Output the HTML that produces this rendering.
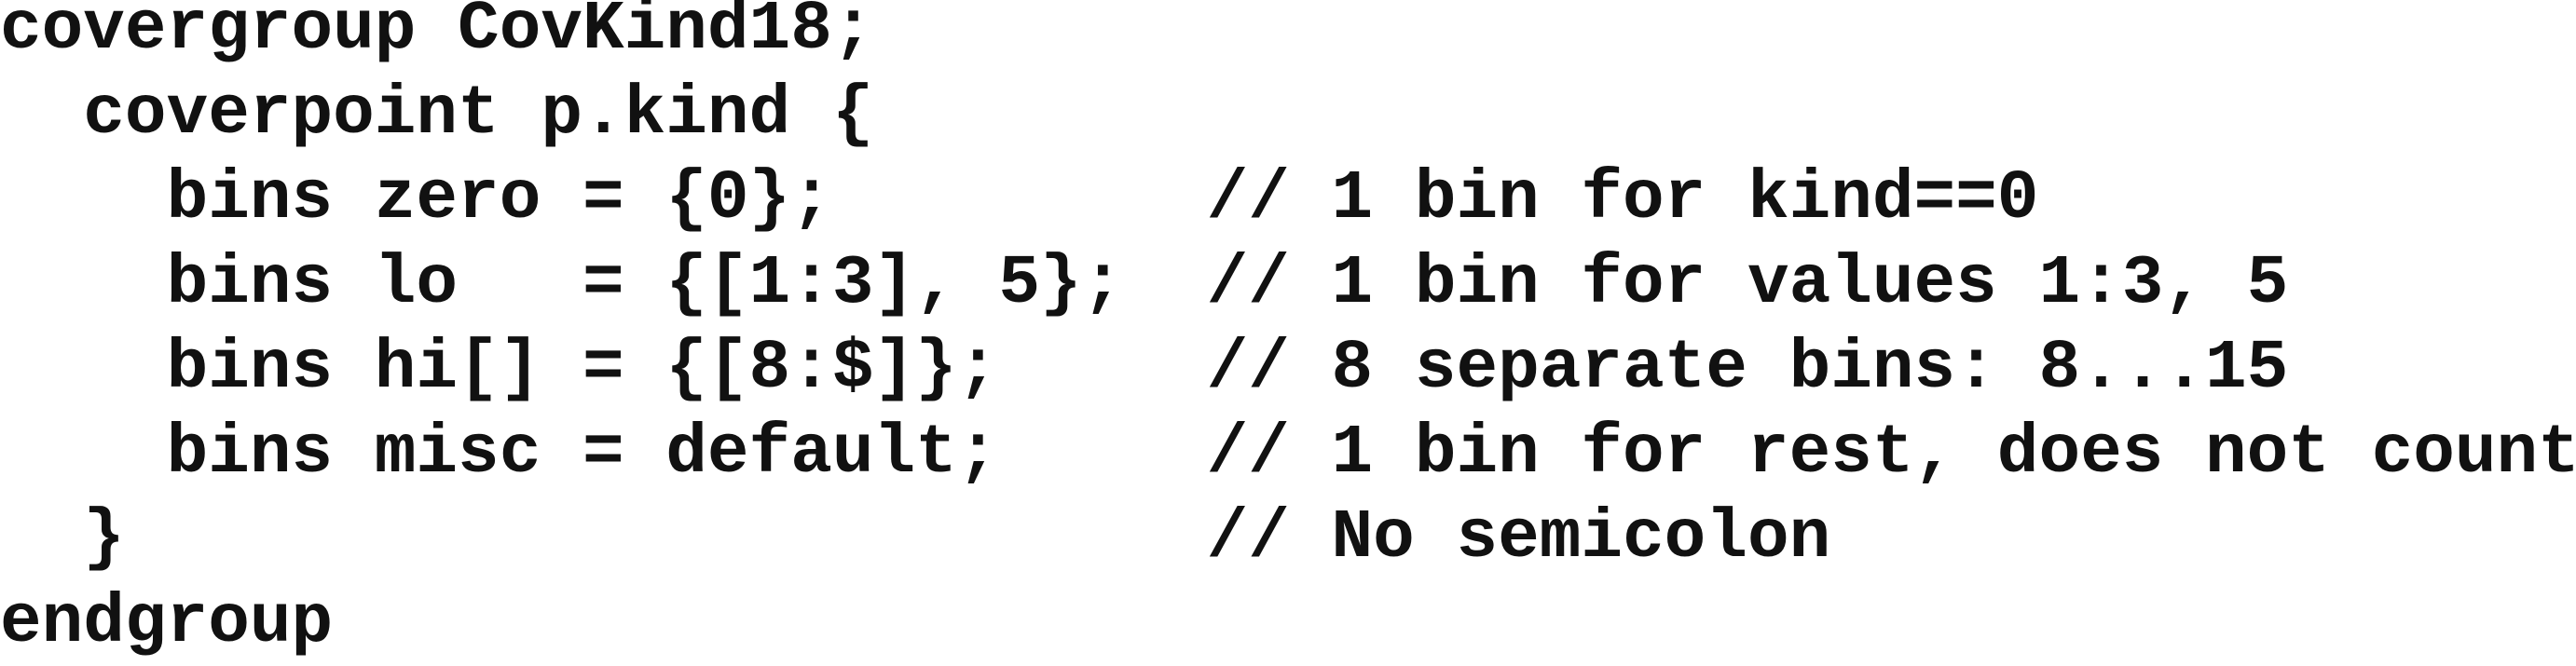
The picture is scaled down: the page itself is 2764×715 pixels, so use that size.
<!DOCTYPE html>
<html><head><style>
html,body{margin:0;padding:0;background:#fff;width:2764px;height:700px;overflow:hidden}
pre{margin:0;position:absolute;left:0;top:-13px;font-family:"Liberation Mono","Courier New",monospace;font-weight:bold;font-size:74.4px;line-height:91px;color:#111}
</style></head><body>
<pre>covergroup CovKind18;
  coverpoint p.kind {
    bins zero = {0};         // 1 bin for kind==0
    bins lo   = {[1:3], 5};  // 1 bin for values 1:3, 5
    bins hi[] = {[8:$]};     // 8 separate bins: 8...15
    bins misc = default;     // 1 bin for rest, does not count
  }                          // No semicolon
endgroup</pre>
</body></html>
